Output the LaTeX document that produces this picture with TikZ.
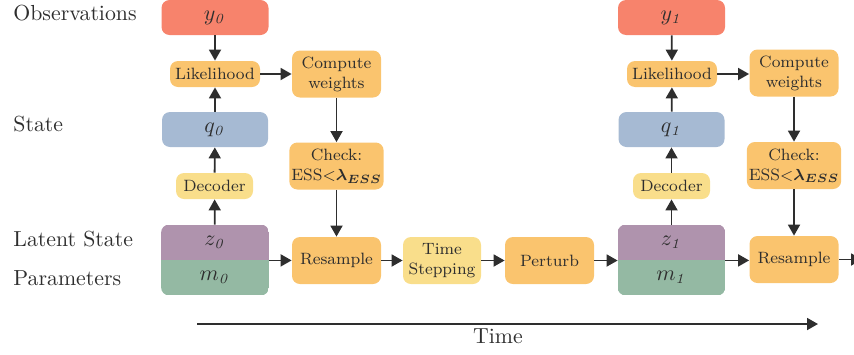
\documentclass[tikz,border=0pt]{standalone}
\usepackage{amsmath,amssymb}
\usetikzlibrary{arrows.meta,backgrounds}
\definecolor{obscol}{HTML}{F7836C}
\definecolor{stepcol}{HTML}{FAC46E}
\definecolor{lightcol}{HTML}{F9DE8B}
\definecolor{statecol}{HTML}{A6BAD3}
\definecolor{latcol}{HTML}{AF93AD}
\definecolor{parcol}{HTML}{94B9A3}
\definecolor{ink}{HTML}{2E2E2E}
\tikzset{
  box/.style={rounded corners=4pt, inner sep=1pt, align=center, text=ink,
    font=\fontsize{8.2}{10}\selectfont},
  obsbox/.style={box, fill=obscol, minimum width=53.5pt, minimum height=17.5pt,
    font=\fontsize{10.5}{12}\selectfont},
  statebox/.style={box, fill=statecol, minimum width=53pt, minimum height=17.5pt,
    font=\fontsize{10.5}{12}\selectfont},
  likbox/.style={box, fill=stepcol, minimum width=45pt, minimum height=13pt},
  decbox/.style={box, fill=lightcol, minimum width=38.5pt, minimum height=13pt},
  opbox/.style={box, fill=stepcol, minimum width=44.5pt, minimum height=23.5pt},
  halfbox/.style={inner sep=0pt, minimum width=53.5pt, minimum height=17.5pt, text=ink,
    font=\fontsize{10.5}{12}\selectfont},
  flow/.style={-{Triangle[length=5.5pt,width=6pt]}, line width=0.9pt, draw=ink},
  lane/.style={anchor=base west, inner sep=0pt, text=ink,
    font=\fontsize{10.9}{13}\selectfont}
}
\begin{document}
\begin{tikzpicture}[x=0.5pt,y=-0.5pt]
\useasboundingbox (0,0) rectangle (854,354);

\node[lane] (lobs) at (13,20.5) {Observations};
\node[lane] (lstate) at (13,131.5) {State};
\node[lane] (llat) at (13,246.5) {Latent State};
\node[lane] (lpar) at (13,285) {Parameters};

\node[obsbox] (y0) at (215,17.5) {$y_{\mathit{0}}$};
\node[likbox] (lik0) at (215,74) {Likelihood};
\node[statebox] (q0) at (215,129.5) {$q_{\mathit{0}}$};
\node[decbox] (dec0) at (214.5,186) {Decoder};
\node[halfbox] (z0) at (215,242.5) {$z_{\mathit{0}}$};
\node[halfbox] (m0) at (215,277.5) {$m_{\mathit{0}}$};
\node[opbox] (cw0) at (336.5,74) {Compute\\weights};
\node[opbox] (chk0) at (336.5,166) {Check:\\ESS${<}\boldsymbol{\lambda_{ESS}}$};
\node[opbox] (res0) at (336.5,260.5) {Resample};
\node[opbox, fill=lightcol, minimum width=39pt] (ts) at (442,260.5) {Time\\Stepping};
\node[opbox] (pert) at (549.5,260.5) {Perturb};

\node[obsbox] (y1) at (671.5,17.5) {$y_{\mathit{1}}$};
\node[likbox] (lik1) at (672,74) {Likelihood};
\node[statebox] (q1) at (671.5,129.5) {$q_{\mathit{1}}$};
\node[decbox] (dec1) at (671.5,186) {Decoder};
\node[halfbox] (z1) at (671.5,242.5) {$z_{\mathit{1}}$};
\node[halfbox] (m1) at (671.5,277.5) {$m_{\mathit{1}}$};
\node[opbox] (cw1) at (794,73) {Compute\\weights};
\node[opbox] (chk1) at (794,165.5) {Check:\\ESS${<}\boldsymbol{\lambda_{ESS}}$};
\node[opbox] (res1) at (794,259.5) {Resample};

\begin{scope}[on background layer]
  \begin{scope}
    \clip[rounded corners=4pt] (z0.north west) rectangle (m0.south east);
    \fill[latcol] (z0.north west) rectangle (z0.south east);
    \fill[parcol] (m0.north west) rectangle (m0.south east);
  \end{scope}
  \begin{scope}
    \clip[rounded corners=4pt] (z1.north west) rectangle (m1.south east);
    \fill[latcol] (z1.north west) rectangle (z1.south east);
    \fill[parcol] (m1.north west) rectangle (m1.south east);
  \end{scope}
\end{scope}

\draw[flow] (y0) -- (lik0);
\draw[flow] (q0) -- (lik0);
\draw[flow] (dec0) -- (q0);
\draw[flow] (z0) -- (dec0);
\draw[flow] (lik0) -- (cw0);
\draw[flow] (cw0) -- (chk0);
\draw[flow] (chk0) -- (res0);
\draw[flow] (z0.south east) -- (z0.south east -| res0.west);
\draw[flow] (res0) -- (ts);
\draw[flow] (ts) -- (pert);
\draw[flow] (pert.east) -- (pert.east -| z1.west);

\draw[flow] (y1) -- (lik1);
\draw[flow] (q1) -- (lik1);
\draw[flow] (dec1) -- (q1);
\draw[flow] (z1) -- (dec1);
\draw[flow] (lik1) -- (cw1.west |- lik1.east);
\draw[flow] (cw1) -- (chk1);
\draw[flow] (chk1) -- (res1);
\draw[flow] (z1.south east) -- (z1.south east -| res1.west);
\coordinate (out) at (862,259.5);
\draw[flow] (res1) -- (out);

\coordinate (t0) at (197,324);
\coordinate (t1) at (818,324);
\draw[flow] (t0) -- (t1);
\node[lane, anchor=base] (time) at (498,343) {Time};

\end{tikzpicture}
\end{document}
